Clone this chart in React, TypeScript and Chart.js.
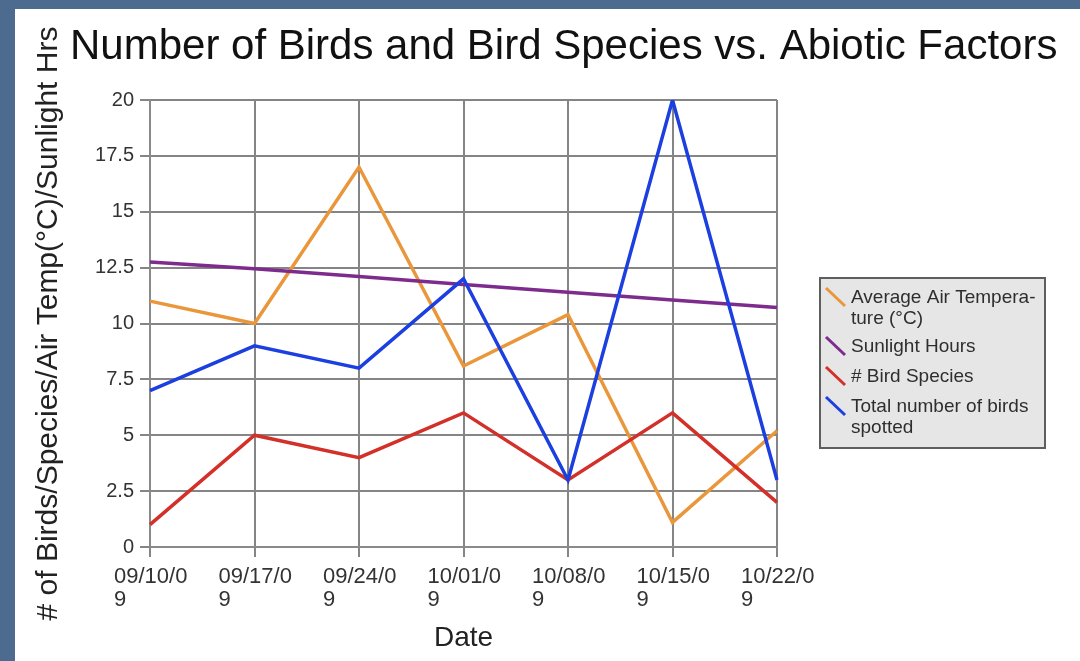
import { useEffect, useRef } from "react";
import { Chart, registerables } from "chart.js";

Chart.register(...registerables);

const categories = ["09/10/09", "09/17/09", "09/24/09", "10/01/09", "10/08/09", "10/15/09", "10/22/09"];
const tickLabels = [
  ["09/10/0", "9"],
  ["09/17/0", "9"],
  ["09/24/0", "9"],
  ["10/01/0", "9"],
  ["10/08/0", "9"],
  ["10/15/0", "9"],
  ["10/22/0", "9"],
];
const airTemp = [11.0, 10.0, 17.0, 8.1, 10.4, 1.1, 5.2];
const sunlight = [12.75, 12.45, 12.1, 11.75, 11.4, 11.05, 10.72];
const birdSpecies = [1, 5, 4, 6, 3, 6, 2];
const totalBirds = [7, 9, 8, 12, 3, 20, 3];
const yTickValues = [0, 2.5, 5, 7.5, 10, 12.5, 15, 17.5, 20];

const seriesNames = [
  "Average Air Temperature (°C)",
  "Sunlight Hours",
  "# Bird Species",
  "Total number of birds spotted",
];
const legendText = [
  ["Average Air Tempera-", "ture (°C)"],
  ["Sunlight Hours"],
  ["# Bird Species"],
  ["Total number of birds", "spotted"],
];
const seriesColors = ["#ea963a", "#7d2b8c", "#d3302a", "#1c3fe0"];

const chartTitle = "Number of Birds and Bird Species vs. Abiotic Factors";
const yTitle = "# of Birds/Species/Air Temp(°C)/Sunlight Hrs";
const xTitle = "Date";

const FONT = "'Liberation Sans', Arial, Helvetica, sans-serif";

const decorPlugin = {
  id: "decor",
  beforeDraw(chart: any) {
    const ctx = chart.ctx;
    const w = chart.width;
    const h = chart.height;
    ctx.save();
    ctx.fillStyle = "#4d6a8f";
    ctx.fillRect(0, 0, w, h);
    ctx.fillStyle = "#ffffff";
    ctx.fillRect(15, 9, w - 15, h - 9);
    ctx.restore();
  },
  afterDraw(chart: any) {
    const ctx = chart.ctx;
    ctx.save();
    // title
    ctx.fillStyle = "#111111";
    ctx.font = `42px ${FONT}`;
    ctx.textAlign = "left";
    ctx.textBaseline = "alphabetic";
    ctx.fillText(chartTitle, 70, 59);

    // legend
    const bx = 820, by = 278, bw = 225, bh = 170;
    ctx.fillStyle = "#e6e6e6";
    ctx.fillRect(bx, by, bw, bh);
    ctx.strokeStyle = "#5e5e5e";
    ctx.lineWidth = 2;
    ctx.strokeRect(bx, by, bw, bh);
    const firstCenters = [298, 347, 377, 407];
    ctx.font = `19px ${FONT}`;
    ctx.textBaseline = "middle";
    legendText.forEach((lines, i) => {
      const cy = firstCenters[i];
      ctx.strokeStyle = seriesColors[i];
      ctx.lineWidth = 3;
      ctx.beginPath();
      ctx.moveTo(826, cy - 10);
      ctx.lineTo(845, cy + 8);
      ctx.stroke();
      ctx.fillStyle = "#2e2e2e";
      lines.forEach((ln, j) => {
        ctx.fillText(ln, 851, cy + j * 20.5);
      });
    });
    ctx.restore();
  },
};

export default function App() {
  const ref = useRef<HTMLCanvasElement | null>(null);
  useEffect(() => {
    if (!ref.current) return;
    const data = [airTemp, sunlight, birdSpecies, totalBirds];
    const chart = new Chart(ref.current, {
      type: "line",
      data: {
        labels: categories,
        datasets: data.map((d, i) => ({
          label: seriesNames[i],
          data: d,
          borderColor: seriesColors[i],
          backgroundColor: seriesColors[i],
          borderWidth: 3.5,
          pointRadius: 0,
          tension: 0,
          order: 4 - i,
        })),
      },
      options: {
        responsive: true,
        maintainAspectRatio: false,
        animation: false,
        layout: { padding: { left: 0, top: 100, right: 303, bottom: 0 } },
        plugins: {
          legend: { display: false },
          tooltip: { enabled: false },
          title: { display: false },
        },
        scales: {
          x: {
            type: "category",
            offset: false,
            afterFit: (s: any) => {
              s.height = 114;
            },
            grid: { color: "#858585", lineWidth: 2, tickLength: 10, drawTicks: true },
            border: { color: "#8a8a8a", width: 2 },
            ticks: {
              autoSkip: false,
              maxRotation: 0,
              minRotation: 0,
              align: "start",
              labelOffset: -36,
              padding: 8,
              color: "#333333",
              font: { family: FONT, size: 22, lineHeight: 1.05 },
              callback: (_v: any, i: number) => tickLabels[i],
            },
            title: {
              display: true,
              text: xTitle,
              color: "#222222",
              font: { family: FONT, size: 28 },
              padding: { top: 0, bottom: 6 },
            },
          },
          y: {
            min: 0,
            max: 20,
            afterFit: (s: any) => {
              s.width = 150;
            },
            afterBuildTicks: (s: any) => {
              s.ticks = yTickValues.map((v) => ({ value: v }));
            },
            grid: { color: "#858585", lineWidth: 2, tickLength: 10, drawTicks: true },
            border: { color: "#8a8a8a", width: 2 },
            ticks: {
              padding: 6,
              color: "#333333",
              font: { family: FONT, size: 20 },
              callback: (v: any) => String(v),
            },
            title: {
              display: true,
              text: yTitle,
              color: "#222222",
              font: { family: FONT, size: 30 },
              padding: { top: 31, bottom: 0 },
            },
          },
        },
      },
      plugins: [decorPlugin],
    });
    return () => chart.destroy();
  }, []);
  return (
    <div style={{ position: "fixed", left: 0, top: 0, width: 1080, height: 661 }}>
      <canvas ref={ref} />
    </div>
  );
}
